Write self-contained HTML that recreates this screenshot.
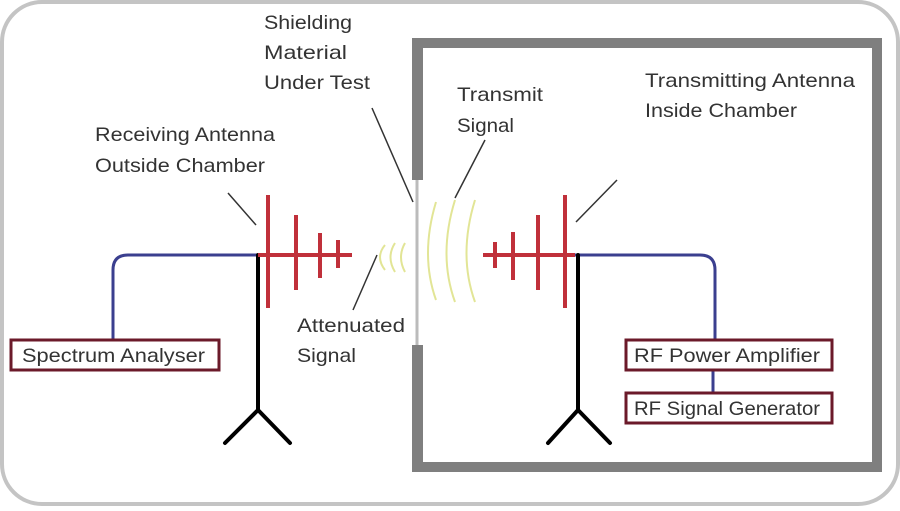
<!DOCTYPE html>
<html><head><style>
body{margin:0;background:#fff;width:900px;height:506px;overflow:hidden}
svg text{font-family:"Liberation Sans",sans-serif;font-size:19.5px;fill:#333}
</style></head><body>
<svg width="900" height="506" xmlns="http://www.w3.org/2000/svg">
<rect x="2" y="2" width="896" height="502" rx="40" fill="#fff" stroke="#c4c4c4" stroke-width="4"/>
<g fill="#7f7f7f">
<rect x="412" y="38" width="470" height="10"/>
<rect x="872" y="38" width="10" height="434"/>
<rect x="412" y="462" width="470" height="10"/>
<rect x="412" y="38" width="11" height="142"/>
<rect x="412" y="345" width="11" height="127"/>
</g>
<line x1="417" y1="180" x2="417" y2="345" stroke="#bbb" stroke-width="3"/>
<path d="M113 340 V270 Q113 255 128 255 H258" fill="none" stroke="#3b3f8f" stroke-width="3"/>
<path d="M575 255 H700 Q715 255 715 270 V340 M713 370 V392" fill="none" stroke="#3b3f8f" stroke-width="3"/>
<g stroke="#000" stroke-width="4" fill="none" stroke-linecap="round">
<path d="M258 255 V410 M258 410 L225 443 M258 410 L290 443"/>
<path d="M578 255 V410 M578 410 L548 443 M578 410 L610 443"/>
</g>
<g stroke="#c0303a" stroke-width="4">
<path d="M258 255 H352 M268 195 V308 M296 215 V290 M320 233 V278 M338 240 V268"/>
<path d="M483 255 H575 M565 195 V308 M538 215 V290 M513 232 V280 M495 242 V268"/>
</g>
<g fill="none" stroke="#e2e596" stroke-width="2">
<path d="M385 245 Q375 257 385 270"/><path d="M395 243 Q386 257 395 272"/><path d="M405 243 Q397 257 405 272"/>
<path d="M436 202 Q420 255 436 300"/><path d="M455 200 Q438 255 455 302"/><path d="M475 200 Q458 255 475 302"/>
</g>
<g stroke="#333" stroke-width="1.5">
<line x1="228" y1="193" x2="256" y2="225"/>
<line x1="372" y1="108" x2="413" y2="202"/>
<line x1="485" y1="140" x2="455" y2="198"/>
<line x1="617" y1="180" x2="576" y2="222"/>
<line x1="377" y1="255" x2="353" y2="310"/>
</g>
<g fill="#fff" stroke="#6b1a2a" stroke-width="3">
<rect x="11" y="340" width="208" height="30"/>
<rect x="626" y="340" width="206" height="30"/>
<rect x="626" y="393" width="206" height="30"/>
</g>
<text x="22" y="362" textLength="183" lengthAdjust="spacingAndGlyphs">Spectrum Analyser</text>
<text x="634" y="362" textLength="186" lengthAdjust="spacingAndGlyphs">RF Power Amplifier</text>
<text x="634" y="415" textLength="186" lengthAdjust="spacingAndGlyphs">RF Signal Generator</text>
<text x="264" y="29" textLength="88" lengthAdjust="spacingAndGlyphs">Shielding</text>
<text x="264" y="59" textLength="83" lengthAdjust="spacingAndGlyphs">Material</text>
<text x="264" y="89" textLength="106" lengthAdjust="spacingAndGlyphs">Under Test</text>
<text x="95" y="141" textLength="180" lengthAdjust="spacingAndGlyphs">Receiving Antenna</text>
<text x="95" y="172" textLength="170" lengthAdjust="spacingAndGlyphs">Outside Chamber</text>
<text x="457" y="101" textLength="86" lengthAdjust="spacingAndGlyphs">Transmit</text>
<text x="457" y="132" textLength="57" lengthAdjust="spacingAndGlyphs">Signal</text>
<text x="645" y="87" textLength="210" lengthAdjust="spacingAndGlyphs">Transmitting Antenna</text>
<text x="645" y="117" textLength="152" lengthAdjust="spacingAndGlyphs">Inside Chamber</text>
<text x="297" y="332" textLength="108" lengthAdjust="spacingAndGlyphs">Attenuated</text>
<text x="297" y="362" textLength="59" lengthAdjust="spacingAndGlyphs">Signal</text>
</svg>
</body></html>
